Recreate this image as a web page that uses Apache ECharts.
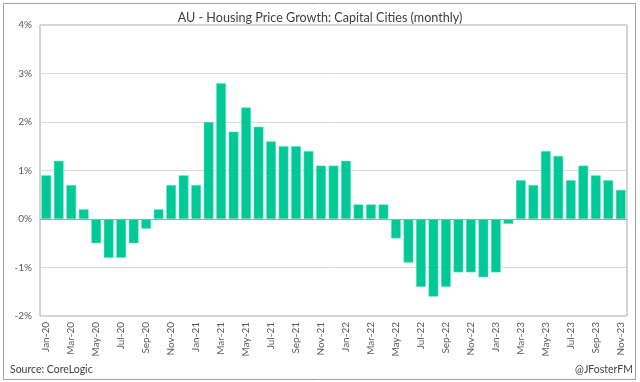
<!DOCTYPE html>
<html>
<head>
<meta charset="utf-8">
<script src="https://cdn.jsdelivr.net/npm/echarts@6/dist/echarts.min.js"></script>
<style>html,body{margin:0;padding:0;background:#fff}#c{width:640px;height:382px}</style>
</head>
<body>
<div id="c"></div>
<script>
const months = ['Jan','Feb','Mar','Apr','May','Jun','Jul','Aug','Sep','Oct','Nov','Dec'];
const categories = [];
for (const y of ['20','21','22','23']) for (const m of months) categories.push(m + '-' + y);
categories.length = 47; // Jan-20 .. Nov-23

const growth = [
  0.9, 1.2, 0.7, 0.2, -0.5, -0.8, -0.8, -0.5, -0.2, 0.2, 0.7, 0.9,
  0.7, 2.0, 2.8, 1.8, 2.3, 1.9, 1.6, 1.5, 1.5, 1.4, 1.1, 1.1,
  1.2, 0.3, 0.3, 0.3, -0.4, -0.9, -1.4, -1.6, -1.4, -1.1, -1.1, -1.2,
  -1.1, -0.1, 0.8, 0.7, 1.4, 1.3, 0.8, 1.1, 0.9, 0.8, 0.6
];

const titleText = 'AU - Housing Price Growth: Capital Cities (monthly)';
const sourceText = 'Source: CoreLogic';
const creditText = '@JFosterFM';

const FONT = 'Lato, "Liberation Sans", sans-serif';
const chart = echarts.init(document.getElementById('c'), null, {renderer: 'canvas'});
chart.setOption({
  animation: false,
  backgroundColor: '#ffffff',
  title: {
    text: titleText, left: 'center', top: 6,
    textStyle: {fontFamily: FONT, fontSize: 12.6, fontWeight: 'normal', color: '#404040'}
  },
  graphic: [
    {type: 'rect', shape: {x: 3.5, y: 3.5, width: 632, height: 376}, style: {fill: 'none', stroke: '#a0a0a0', lineWidth: 1}, silent: true},
    {type: 'text', left: 10, top: 364, style: {text: sourceText, fontFamily: FONT, fontSize: 10.5, fill: '#404040'}},
    {type: 'text', right: 7, top: 364, style: {text: creditText, fontFamily: FONT, fontSize: 10.5, fill: '#404040'}}
  ],
  grid: {left: 40, right: 13, top: 25, bottom: 66, show: true, borderColor: '#a6a6a6', borderWidth: 1},
  xAxis: {
    type: 'category', data: categories,
    axisLine: {show: false, onZero: false},
    axisTick: {show: false},
    axisLabel: {
      rotate: 90, interval: 1, margin: 6,
      fontFamily: FONT, fontSize: 10, color: '#595959'
    }
  },
  yAxis: {
    type: 'value', min: -2, max: 4, interval: 1,
    axisLine: {show: false}, axisTick: {show: false},
    axisLabel: {formatter: '{value}%', fontFamily: FONT, fontSize: 10, color: '#595959', margin: 8},
    splitLine: {lineStyle: {color: '#d9d9d9', width: 1}}
  },
  series: [{
    type: 'bar', data: growth, barCategoryGap: '22%',
    itemStyle: {color: '#00c896', borderColor: '#5ee6bd', borderWidth: 0.5},
    markLine: {
      silent: true, symbol: 'none', label: {show: false},
      lineStyle: {color: '#a6a6a6', type: 'solid', width: 1},
      data: [{yAxis: 0}]
    }
  }]
});
</script>
</body>
</html>
